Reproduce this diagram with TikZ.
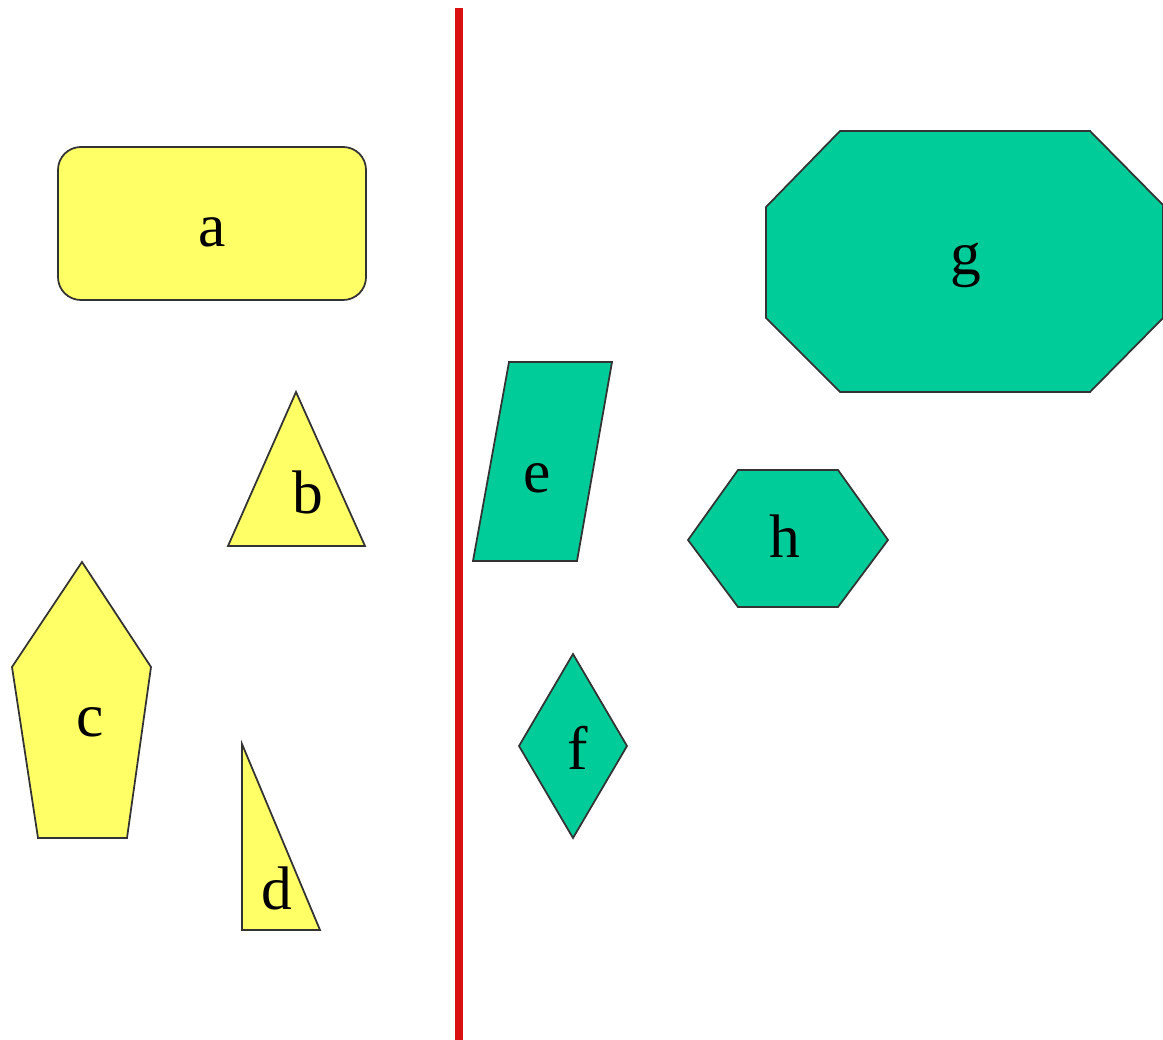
\documentclass[tikz,border=0pt]{standalone}
\usepackage{fontspec}
\setmainfont{Liberation Serif}
\usepackage{tikz}
\usetikzlibrary{calc,positioning}
\definecolor{shapeyellow}{HTML}{FFFF66}
\definecolor{shapegreen}{HTML}{00CC99}
\definecolor{dividered}{HTML}{D81010}
\tikzset{
  yshape/.style={draw=black!80, line width=1pt, fill=shapeyellow, line join=miter},
  gshape/.style={draw=black!80, line width=1pt, fill=shapegreen, line join=miter},
  lbl/.style={inner sep=0pt, font=\fontsize{35}{40}\selectfont},
  divider/.style={draw=dividered, line width=4pt}
}
\begin{document}
\begin{tikzpicture}[x=0.02cm, y=-0.02cm]
  \useasboundingbox (0,0) rectangle (1163,1040);
  % dividing line
  \coordinate (top) at (459,8);
  \coordinate (bot) at (459,1040);
  \draw[divider] (top) -- (bot);
  % left group
  \draw[yshape, rounded corners=13pt] (58,147) rectangle (366,300);
  \draw[yshape] (228,546) -- (296,392) -- (365,546) -- cycle;
  \draw[yshape] (82,562) -- (151,667) -- (127,838) -- (38,838) -- (12,667) -- cycle;
  \draw[yshape] (242,744) -- (320,930) -- (242,930) -- cycle;
  % right group
  \draw[gshape] (509,362) -- (612,362) -- (577,561) -- (473,561) -- cycle;
  \draw[gshape] (573,654) -- (627,746) -- (573,838) -- (519,746) -- cycle;
  \draw[gshape] (840,131) -- (1090,131) -- (1163,205) -- (1163,318)
    -- (1090,392) -- (840,392) -- (766,318) -- (766,207) -- cycle;
  \draw[gshape] (738,470) -- (838,470) -- (888,540) -- (838,607)
    -- (738,607) -- (688,540) -- cycle;
  % labels
  \node[lbl] (a) at (212,232) {a};
  \node[lbl] (b) at (308,492) {b};
  \node[lbl] (c) at (90,722) {c};
  \node[lbl] (d) at (277,888) {d};
  \node[lbl] (e) at (537,478) {e};
  \node[lbl] (f) at (578,748) {f};
  \node[lbl] (g) at (966,265) {g};
  \node[lbl] (h) at (785,536) {h};
\end{tikzpicture}
\end{document}
